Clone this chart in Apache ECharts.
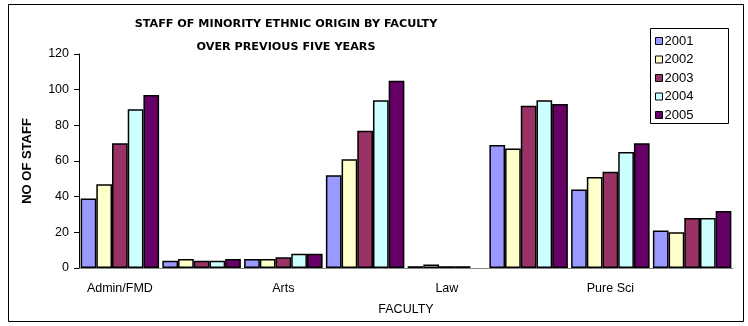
<!DOCTYPE html>
<html><head><meta charset="utf-8">
<script src="https://cdn.jsdelivr.net/npm/echarts@6/dist/echarts.min.js"></script>
<style>html,body{margin:0;padding:0;background:#fff}#c{width:748px;height:326px}</style>
</head><body><div id="c"></div>
<script>
var categories = ['Admin/FMD', '', 'Arts', '', 'Law', '', 'Pure Sci', ''];
var years = ['2001', '2002', '2003', '2004', '2005'];
var v2001 = [39, 4, 5, 52, 1, 69, 44, 21];
var v2002 = [47, 5, 5, 61, 2, 67, 51, 20];
var v2003 = [70, 4, 6, 77, 1, 91, 54, 28];
var v2004 = [89, 4, 8, 94, 1, 94, 65, 28];
var v2005 = [97, 5, 8, 105, 0, 92, 70, 32];
var yTicks = [0, 20, 40, 60, 80, 100, 120];
var colors = ['#9999FF', '#FFFFCC', '#993366', '#CCFFFF', '#660066'];
var seriesData = [v2001, v2002, v2003, v2004, v2005];

var chart = echarts.init(document.getElementById('c'), null, {renderer: 'canvas'});
chart.setOption({
  animation: false,
  backgroundColor: '#fff',
  title: {
    text: 'STAFF OF MINORITY ETHNIC ORIGIN BY FACULTY\nOVER PREVIOUS FIVE YEARS',
    left: 281, top: 8, textAlign: 'center',
    textStyle: {fontFamily: 'DejaVu Sans', fontWeight: 'bold', fontSize: 11.2, lineHeight: 23, color: '#000'}
  },
  legend: {
    orient: 'vertical', left: 655, top: 34,
    padding: 0,
    itemWidth: 7, itemHeight: 7, itemGap: 4.5,
    icon: 'rect',
    itemStyle: {borderColor: '#000', borderWidth: 1},
    textStyle: {fontFamily: 'Liberation Sans', fontSize: 13, lineHeight: 14, color: '#000', padding: [0, 0, 0, -3]},
    data: years
  },
  grid: {left: 79, right: 15, top: 54, bottom: 58},
  xAxis: {
    type: 'category', data: categories,
    name: 'FACULTY', nameLocation: 'middle', nameGap: 35,
    nameTextStyle: {fontFamily: 'Liberation Sans', fontSize: 12.5, color: '#000'},
    axisLine: {lineStyle: {color: '#888', width: 1}},
    axisTick: {interval: 0, length: 4, lineStyle: {color: '#333'}},
    axisLabel: {interval: 1, margin: 14, fontFamily: 'Liberation Sans', fontSize: 12.5, color: '#000'}
  },
  yAxis: {
    type: 'value', min: 0, max: 120, interval: 20,
    name: 'NO OF STAFF', nameLocation: 'middle', nameGap: 45, nameRotate: 90,
    nameTextStyle: {fontFamily: 'Liberation Sans', fontWeight: 'bold', fontSize: 13, color: '#000'},
    axisLine: {show: true, lineStyle: {color: '#000', width: 1}},
    axisTick: {show: true, length: 5, lineStyle: {color: '#000'}},
    splitLine: {show: false},
    axisLabel: {margin: 10, fontFamily: 'Liberation Sans', fontSize: 12.5, color: '#000',
      formatter: function (v) { return yTicks.indexOf(v) >= 0 ? String(v) : ''; }}
  },
  series: years.map(function (y, i) {
    return {
      name: y, type: 'bar',
      data: seriesData[i].map(function (v) {
        return v === 0 ? {value: v, itemStyle: {borderWidth: 0}} : v;
      }),
      barGap: '0%', barCategoryGap: '4%',
      itemStyle: {color: colors[i], borderColor: '#000', borderWidth: 1.5}
    };
  }),
  graphic: [{
    type: 'rect', shape: {x: 8.5, y: 4.5, width: 735, height: 317},
    style: {fill: 'none', stroke: '#000', lineWidth: 1}, silent: true, z: 100
  }, {
    type: 'rect', shape: {x: 650.5, y: 28.5, width: 78, height: 95},
    style: {fill: 'none', stroke: '#000', lineWidth: 1}, silent: true, z: 100
  }]
});
</script></body></html>
